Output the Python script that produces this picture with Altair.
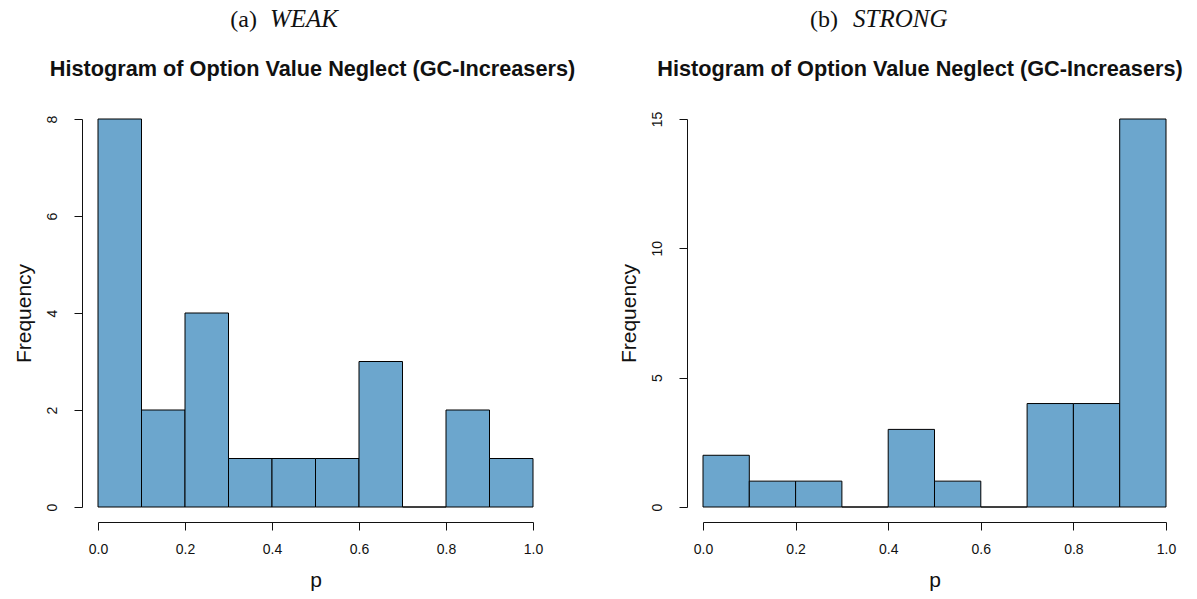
import altair as alt
import pandas as pd

# ---- data ----
bin_start = [0.0, 0.1, 0.2, 0.3, 0.4, 0.5, 0.6, 0.7, 0.8, 0.9]
bin_end = [0.1, 0.2, 0.3, 0.4, 0.5, 0.6, 0.7, 0.8, 0.9, 1.0]
weak_counts = [8, 2, 4, 1, 1, 1, 3, 0, 2, 1]
strong_counts = [2, 1, 1, 0, 3, 1, 0, 4, 4, 15]
x_ticks = [0.0, 0.2, 0.4, 0.6, 0.8, 1.0]
weak_y_ticks = [0, 2, 4, 6, 8]
strong_y_ticks = [0, 5, 10, 15]
main_title = "Histogram of Option Value Neglect (GC-Increasers)"
caption_tags = ["(a)", "(b)"]
caption_names = ["WEAK", "STRONG"]

FILL = "#6CA6CD"
SANS = "Liberation Sans"
SERIF = "Liberation Serif"
INK = "#111111"
PLOT_H = 388


def panel(counts, yticks, width, tag, name, tag_x, name_x, title_x):
    df = pd.DataFrame({"start": bin_start, "end": bin_end,
                       "count": counts, "base": [0] * len(counts)})
    bars = alt.Chart(df).mark_rect(fill=FILL, stroke="black", strokeWidth=1).encode(
        x=alt.X("start:Q",
                scale=alt.Scale(domain=[0, 1], nice=False, zero=False),
                axis=alt.Axis(values=x_ticks, format=".1f", title="p",
                              offset=15, tickSize=8, labelPadding=12,
                              titlePadding=13, labelFlush=False)),
        x2="end:Q",
        y=alt.Y("count:Q",
                scale=alt.Scale(domain=[0, max(yticks)], nice=False),
                axis=alt.Axis(values=yticks, format="d", title="Frequency",
                              offset=16, tickSize=8, labelPadding=15,
                              labelAngle=270, labelAlign="center",
                              labelBaseline="bottom", titlePadding=11)),
        y2="base:Q",
    )
    tdf = pd.DataFrame({"tag": [tag], "name": [name], "title": [main_title]})
    tag_text = alt.Chart(tdf).mark_text(
        font=SERIF, fontSize=24, align="right", baseline="alphabetic", color=INK
    ).encode(x=alt.value(tag_x), y=alt.value(-92), text="tag:N")
    name_text = alt.Chart(tdf).mark_text(
        font=SERIF, fontSize=25, fontStyle="italic", align="left",
        baseline="alphabetic", color=INK
    ).encode(x=alt.value(name_x), y=alt.value(-92), text="name:N")
    title_text = alt.Chart(tdf).mark_text(
        font=SANS, fontSize=21.7, fontWeight="bold", align="center",
        baseline="alphabetic", color=INK
    ).encode(x=alt.value(title_x), y=alt.value(-43), text="title:N")
    return alt.layer(bars, tag_text, name_text, title_text).properties(
        width=width, height=PLOT_H)


left = panel(weak_counts, weak_y_ticks, 435, caption_tags[0], caption_names[0],
             159, 172, 214.5)
right = panel(strong_counts, strong_y_ticks, 463, caption_tags[1], caption_names[1],
              135, 150, 217)

chart = alt.hconcat(left, right, spacing=170, bounds="flush").properties(
    padding={"left": 13, "top": 7, "right": 5, "bottom": 5},
    background="white",
).configure_view(stroke=None).configure_axis(
    grid=False, domainColor=INK, tickColor=INK, labelColor=INK, titleColor=INK,
    labelFont=SANS, titleFont=SANS, labelFontSize=14, titleFontSize=21,
    titleFontWeight="normal", domainWidth=1, tickWidth=1,
)

chart.save("out.html", embed_options={"renderer": "svg", "actions": False})
